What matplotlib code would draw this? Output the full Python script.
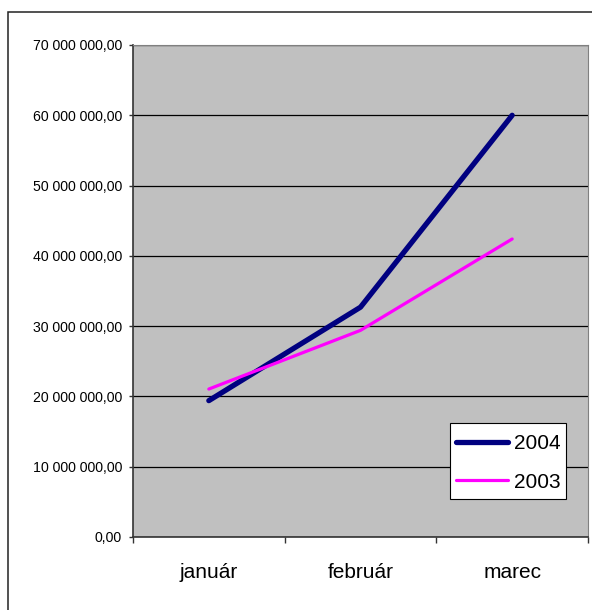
import matplotlib.pyplot as plt
from matplotlib.ticker import FuncFormatter

plt.rcParams['font.family'] = ['Liberation Sans', 'DejaVu Sans']

months = ['január', 'február', 'marec']
sales_2004 = [19400000, 32700000, 60000000]
sales_2003 = [21050000, 29400000, 42400000]
yticks = [0, 10000000, 20000000, 30000000, 40000000, 50000000, 60000000, 70000000]


def fmt(v, pos):
    s = '{:,.2f}'.format(v)  # 70,000,000.00
    return s.replace(',', ' ').replace('.', ',')


fig = plt.figure(figsize=(5.92, 6.10), dpi=100)
# outer chart border (right and bottom edges fall outside the picture)
fig.patches.append(plt.Rectangle((8/592, -0.05), 1.0, 1-12/610+0.05, transform=fig.transFigure,
                                 fill=False, edgecolor='#222222', linewidth=1.1, clip_on=False))

ax = fig.add_axes([133/592, 1-537/610, 455/592, 492/610])
ax.set_facecolor('#c0c0c0')

x = range(len(months))
ax.plot(x, sales_2004, color='#000080', linewidth=3.8, solid_capstyle='round', label='2004', zorder=3)
ax.plot(x, sales_2003, color='#ff00ff', linewidth=2.3, solid_capstyle='round', label='2003', zorder=3)

ax.set_xlim(-0.5, 2.5)
ax.set_ylim(0, 70000000)
ax.set_yticks(yticks)
ax.yaxis.set_major_formatter(FuncFormatter(fmt))
ax.grid(axis='y', color='black', linewidth=0.9)
ax.set_axisbelow(True)

ax.set_xticks([-0.5, 0.5, 1.5, 2.5])
ax.set_xticklabels([])
ax.set_xticks(list(x), minor=True)
ax.set_xticklabels(months, minor=True, fontsize=15)
ax.tick_params(axis='x', which='minor', length=0, pad=19)
ax.tick_params(axis='x', which='major', length=4.5, width=1, color='#333333')
ax.tick_params(axis='y', length=3, width=1, pad=5, labelsize=10.2, color='#333333')

for side in ['top', 'right']:
    ax.spines[side].set_color('#808080')
for side in ['left', 'bottom']:
    ax.spines[side].set_color('#333333')
    ax.spines[side].set_linewidth(1.2)

# legend box drawn separately so its size can match
box = plt.Rectangle(((450-133)/455, 1-(499-45)/492), 116/455, 76/492, transform=ax.transAxes,
                    facecolor='white', edgecolor='black', linewidth=0.8, zorder=4)
ax.add_patch(box)
leg = ax.legend(loc='upper left', bbox_to_anchor=((450-133)/455, 1-(428-45)/492), fontsize=15,
                frameon=False, handlelength=2.5, handletextpad=0.25, borderpad=0.3,
                labelspacing=0.93, borderaxespad=0)
leg.set_zorder(5)

fig.savefig('out.png', dpi=100)
